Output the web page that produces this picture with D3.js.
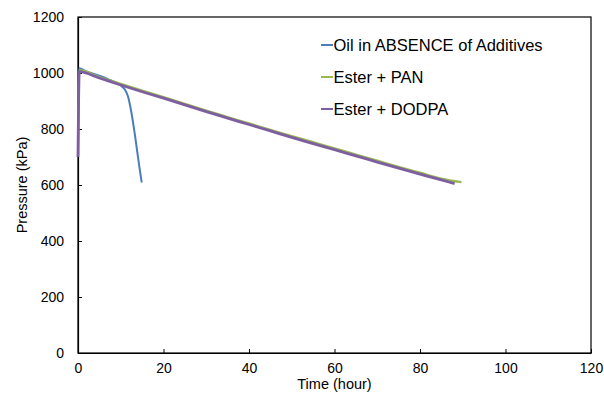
<!DOCTYPE html>
<html>
<head>
<meta charset="utf-8">
<script src="https://cdn.jsdelivr.net/npm/d3@7/dist/d3.min.js"></script>
<style>
  html, body { margin: 0; padding: 0; background: #fff; }
  svg { display: block; font-family: "Liberation Sans", Arial, sans-serif; }
</style>
</head>
<body>
<svg id="chart" width="604" height="399"></svg>
<script>
// Pressure decay readings (time in hours, pressure in kPa)
const oilTime = [0, 0.2, 2, 5, 7, 9, 10, 11, 11.7, 12.3, 12.9, 13.4, 13.9, 14.4, 14.9];
const oilPressure = [700, 1017, 1006, 990, 978, 965, 955, 940, 916, 875, 821, 770, 714, 660, 609];

const panTime = [0, 0.3, 5, 10, 15, 20, 25, 30, 35, 40, 45, 50, 55, 60, 65, 70, 75, 80, 85, 89.7];
const panPressure = [700, 1010, 986, 961, 937, 914, 890, 866, 843, 820, 797, 775, 753, 731, 709, 687, 665, 644, 623, 610];

const dodpaTime = [0, 0.3, 5, 10, 15, 20, 25, 30, 35, 40, 45, 50, 55, 60, 65, 70, 75, 80, 85, 88.1];
const dodpaPressure = [700, 1005, 982, 957, 933, 910, 886, 862, 839, 816, 793, 770, 748, 726, 704, 682, 660, 639, 618, 605];

const seriesNames = ["Oil in ABSENCE of Additives", "Ester + PAN", "Ester + DODPA"];
const seriesColors = ["#4a7ebb", "#98b954", "#7d5fa0"];
const seriesWidths = [2, 2.2, 2.8];

const xTicks = [0, 20, 40, 60, 80, 100, 120];
const yTicks = [0, 200, 400, 600, 800, 1000, 1200];

const svg = d3.select("#chart");
const plotLeft = 78, plotRight = 591, plotTop = 17, plotBottom = 353;

const x = d3.scaleLinear().domain([0, 120]).range([plotLeft, plotRight]);
const y = d3.scaleLinear().domain([0, 1200]).range([plotBottom, plotTop]);

// Plot frame
svg.append("rect")
  .attr("x", plotLeft).attr("y", plotTop)
  .attr("width", plotRight - plotLeft).attr("height", plotBottom - plotTop)
  .attr("fill", "none").attr("stroke", "#000").attr("stroke-width", 1.2);

// Axes with inward ticks
const xAxis = svg.append("g").attr("transform", `translate(0,${plotBottom})`)
  .call(d3.axisBottom(x).tickValues(xTicks).tickFormat(d3.format("d"))
    .tickSizeInner(-4).tickSizeOuter(0).tickPadding(10));
const yAxis = svg.append("g").attr("transform", `translate(${plotLeft},0)`)
  .call(d3.axisLeft(y).tickValues(yTicks).tickFormat(d3.format("d"))
    .tickSizeInner(-4).tickSizeOuter(0).tickPadding(14));
[xAxis, yAxis].forEach(g => {
  g.select(".domain").attr("stroke", "#000").attr("stroke-width", 1.2);
  g.selectAll(".tick line").attr("stroke", "#000").attr("stroke-width", 1);
  g.selectAll(".tick text").attr("fill", "#000").style("font-size", "14px")
    .style("font-family", "'Liberation Sans', Arial, sans-serif");
});

// Axis titles
svg.append("text").attr("x", (plotLeft + plotRight) / 2).attr("y", 389)
  .attr("text-anchor", "middle").style("font-size", "14.5px").text("Time (hour)");
svg.append("text").attr("transform", `translate(27,${(plotTop + plotBottom) / 2}) rotate(-90)`)
  .attr("text-anchor", "middle").style("font-size", "14.5px").text("Pressure (kPa)");

// Data lines
const series = [
  { t: oilTime, p: oilPressure },
  { t: panTime, p: panPressure },
  { t: dodpaTime, p: dodpaPressure }
];
const line = d3.line().x(d => x(d[0])).y(d => y(d[1])).curve(d3.curveMonotoneX);
series.forEach((s, i) => {
  svg.append("path")
    .datum(s.t.map((t, k) => [t, s.p[k]]))
    .attr("d", line)
    .attr("fill", "none")
    .attr("stroke", seriesColors[i])
    .attr("stroke-width", seriesWidths[i])
    .attr("stroke-linejoin", "round");
});

// Legend
const legend = svg.append("g").attr("transform", "translate(321,45)");
seriesNames.forEach((name, i) => {
  const g = legend.append("g").attr("transform", `translate(0,${i * 32})`);
  g.append("line").attr("x1", 0).attr("x2", 12).attr("y1", 0).attr("y2", 0)
    .attr("stroke", seriesColors[i]).attr("stroke-width", 2);
  g.append("text").attr("x", 12.5).attr("y", 6).style("font-size", "16.5px")
    .attr("fill", "#000").text(name);
});
</script>
</body>
</html>
